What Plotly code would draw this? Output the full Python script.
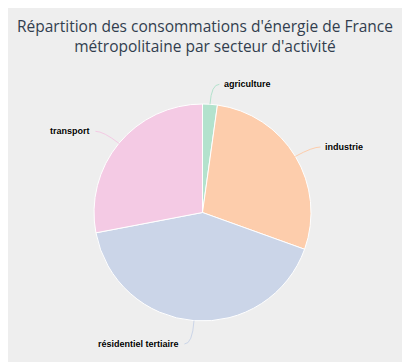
import math
import plotly.graph_objects as go

labels = ["agriculture", "industrie", "résidentiel tertiaire", "transport"]
values = [2.2, 28.3, 41.5, 28.0]
colors = ["#b3e2cd", "#fdcdac", "#cbd5e8", "#f4cae4"]
title_lines = ["Répartition des consommations d'énergie de France",
               "métropolitaine par secteur d'activité"]

W, H = 410, 362
OFF = 8  # page body margin
CX, CY, R = 202.5, 212.5, 108.5  # pie geometry in window pixels


def px(x, y):
    return (x - OFF) / W, 1 - (y - OFF) / H


fig = go.Figure(go.Pie(
    labels=labels, values=values, sort=False, direction="clockwise", rotation=0,
    marker=dict(colors=colors, line=dict(color="white", width=1)),
    textinfo="none", hoverinfo="label+percent", showlegend=False,
    domain=dict(x=[(CX - R - OFF) / W, (CX + R - OFF) / W],
                y=[1 - (CY + R - OFF) / H, 1 - (CY - R - OFF) / H]),
))

shapes, annotations = [], []
total = sum(values)
cum = 0
for lab, v, col in zip(labels, values, colors):
    mid = (cum + v / 2) / total * 2 * math.pi
    cum += v
    s, c = math.sin(mid), math.cos(mid)
    ex, ey = CX + R * s, CY - R * c
    bx = CX + (R + 20) * s
    by = min(max(CY - (R + 22) * c + 2, 84), 344)
    right = s >= 0
    tx = bx + (8 if right else -8)
    x0, y0 = px(ex, ey)
    x1, y1 = px(bx, by)
    x2, y2 = px(tx, by)
    shapes.append(dict(type="path", xref="paper", yref="paper",
                       path=f"M {x0},{y0} Q {x1},{y1} {x2},{y2}",
                       line=dict(color=col, width=1)))
    annotations.append(dict(x=x2, y=y2, xref="paper", yref="paper", showarrow=False,
                            text=f"<b>{lab}</b>", xanchor="left" if right else "right",
                            yanchor="middle", xshift=3 if right else -3,
                            font=dict(family="Liberation Sans, Arial", size=9, color="black",
                                      shadow="0px 0px 2px white")))

tx_, ty_ = px(205, 13)
annotations.append(dict(x=tx_, y=ty_, xref="paper", yref="paper", showarrow=False,
                        text="<br>".join(title_lines), align="center",
                        xanchor="center", yanchor="top",
                        font=dict(family="Open Sans", size=15.5, color="#323e4e")))

fig.update_layout(
    width=W, height=H, margin=dict(l=0, r=0, t=0, b=0),
    paper_bgcolor="#eeeeee", plot_bgcolor="#eeeeee",
    shapes=shapes, annotations=annotations,
)
fig.write_html("out.html")
